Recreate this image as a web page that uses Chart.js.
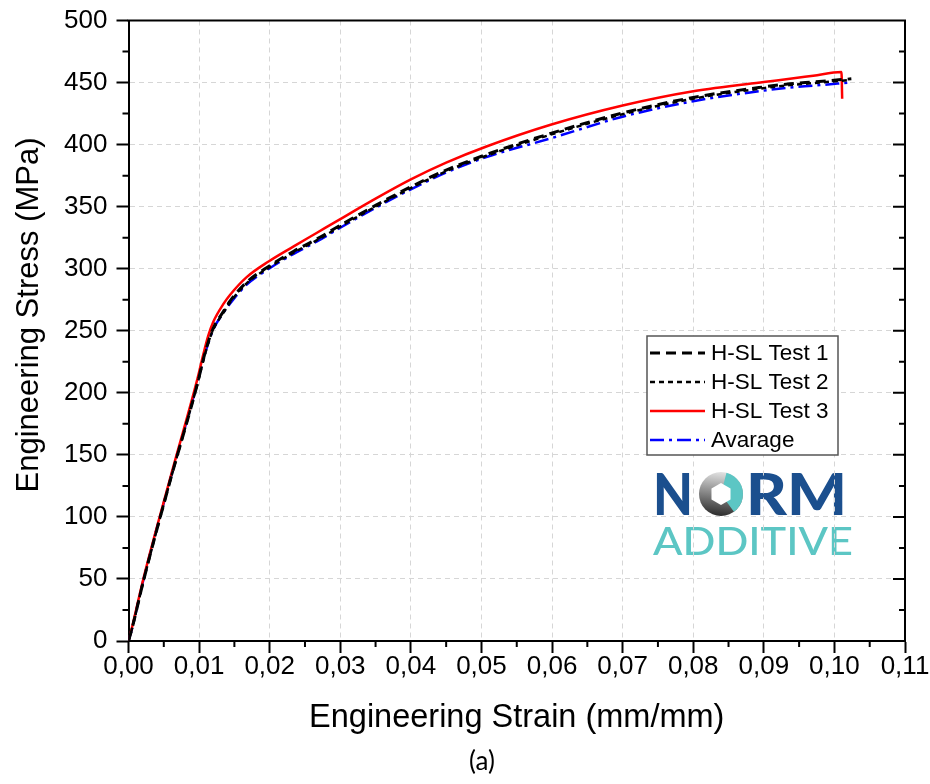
<!DOCTYPE html>
<html>
<head>
<meta charset="utf-8">
<script src="https://cdn.jsdelivr.net/npm/chart.js"></script>
<style>
  html, body { margin: 0; padding: 0; background: #fff; }
  #wrap { width: 930px; height: 784px; }
</style>
</head>
<body>
<div id="wrap"><canvas id="stressChart" width="930" height="784"></canvas></div>
<script>
// values
const strainTest1 = [0, 0.0005, 0.0021, 0.0059, 0.0098, 0.0106, 0.0113, 0.012, 0.0135, 0.0144, 0.0167, 0.0199, 0.0234, 0.0267, 0.03, 0.035, 0.04, 0.045, 0.0507, 0.0598, 0.07, 0.08, 0.09, 0.0937, 0.097, 0.1024];
const stressTest1 = [0, 10, 48, 129, 208, 227, 241, 252, 266, 274, 289, 302, 314, 324, 335, 351, 366, 379.5, 392, 409, 425.5, 438, 446.5, 449, 450.5, 453];

const strainTest2 = [0, 0.0005, 0.0021, 0.0059, 0.0098, 0.0106, 0.0113, 0.012, 0.0135, 0.0144, 0.0167, 0.0199, 0.0234, 0.0267, 0.03, 0.035, 0.04, 0.045, 0.0507, 0.0598, 0.07, 0.08, 0.09, 0.0937, 0.097, 0.1022];
const stressTest2 = [0, 10, 48, 129, 208, 226, 240, 251, 265, 273, 288, 301, 313, 323, 334, 350, 365, 378.5, 391, 408, 424.5, 437, 445.5, 448, 449.5, 452];

const strainTest3 = [0, 0.0005, 0.0021, 0.0059, 0.0098, 0.0106, 0.0113, 0.012, 0.0135, 0.0144, 0.0167, 0.0199, 0.0234, 0.0267, 0.03, 0.035, 0.04, 0.045, 0.0507, 0.0598, 0.07, 0.08, 0.09, 0.0937, 0.097, 0.101, 0.1011];
const stressTest3 = [0, 11, 50, 131, 212, 231, 246, 257, 272, 279, 293, 306, 318, 329, 340, 356.5, 372, 385.5, 398.5, 416, 431.5, 443, 450.5, 453, 455.5, 458.5, 437];

const strainAverage = [0, 0.0005, 0.0021, 0.0059, 0.0098, 0.0106, 0.0113, 0.012, 0.0135, 0.0144, 0.0167, 0.0199, 0.0234, 0.0267, 0.03, 0.035, 0.04, 0.045, 0.0507, 0.0598, 0.07, 0.08, 0.09, 0.0937, 0.097, 0.1022];
const stressAverage = [0, 10, 49, 130, 209, 227, 240, 251, 265, 272, 287, 300, 312, 322, 333, 349, 364, 377.5, 390, 405, 422.5, 435, 443.5, 446, 447.5, 450];

const seriesLabels = ["H-SL Test 1", "H-SL Test 2", "H-SL Test 3", "Avarage"];
const strainTickLabels = ["0,00", "0,01", "0,02", "0,03", "0,04", "0,05", "0,06", "0,07", "0,08", "0,09", "0,10", "0,11"];
const xAxisTitle = "Engineering Strain (mm/mm)";
const yAxisTitle = "Engineering Stress (MPa)";
const panelLabel = "(a)";

const FONT = "'Liberation Sans', Arial, sans-serif";

function toPoints(xs, ys) {
  return xs.map((x, i) => ({ x: x, y: ys[i] }));
}

function drawLogo(ctx) {
  ctx.save();
  const blue = "#1b4f8e";
  const teal = "#5cc6c4";
  ctx.fillStyle = blue;
  ctx.font = "900 58px Lato";
  ctx.textBaseline = "alphabetic";
  // N
  let w = ctx.measureText("N").width;
  ctx.save();
  ctx.translate(653, 515);
  ctx.scale(40 / w, 1);
  ctx.fillText("N", 0, 0);
  ctx.restore();
  // RM
  w = ctx.measureText("RM").width;
  ctx.save();
  ctx.translate(746, 515);
  ctx.scale(101 / w, 1);
  ctx.fillText("RM", 0, 0);
  ctx.restore();
  // O as a ring with hexagon hole
  const cx = 721, cy = 494, r = 22;
  const g = ctx.createLinearGradient(cx, cy - r, cx - 5, cy + r);
  g.addColorStop(0, "#e2e2e2");
  g.addColorStop(1, "#2b2b2b");
  ctx.beginPath();
  ctx.arc(cx, cy, r, 0, Math.PI * 2);
  ctx.fillStyle = g;
  ctx.fill();
  ctx.beginPath();
  ctx.moveTo(cx, cy);
  ctx.arc(cx, cy, r, -Math.PI * 0.42, Math.PI * 0.3);
  ctx.closePath();
  ctx.fillStyle = teal;
  ctx.fill();
  ctx.beginPath();
  for (let k = 0; k < 6; k++) {
    const a = Math.PI / 6 + k * Math.PI / 3;
    const px = cx + 11 * Math.cos(a), py = cy + 11 * Math.sin(a);
    if (k === 0) ctx.moveTo(px, py); else ctx.lineTo(px, py);
  }
  ctx.closePath();
  ctx.fillStyle = "#fff";
  ctx.fill();
  // ADDITIVE
  ctx.fillStyle = teal;
  ctx.font = "500 39px Lato";
  w = ctx.measureText("ADDITIVE").width;
  ctx.save();
  ctx.translate(653, 555);
  ctx.scale(200 / w, 1);
  ctx.fillText("ADDITIVE", 0, 0);
  ctx.restore();
  ctx.restore();
}

function drawLegend(chart) {
  const ctx = chart.ctx;
  const left = 647, top = 336, width = 191, height = 119;
  ctx.save();
  ctx.fillStyle = "#fff";
  ctx.fillRect(left, top, width, height);
  ctx.strokeStyle = "#555";
  ctx.lineWidth = 1.5;
  ctx.strokeRect(left, top, width, height);
  ctx.font = "22.5px " + FONT;
  ctx.textBaseline = "middle";
  chart.data.datasets.forEach((ds, i) => {
    const yy = top + 17 + i * 29;
    ctx.beginPath();
    ctx.setLineDash(ds.borderDash || []);
    ctx.strokeStyle = ds.borderColor;
    ctx.lineWidth = ds.borderWidth;
    ctx.moveTo(650, yy);
    ctx.lineTo(705, yy);
    ctx.stroke();
    ctx.setLineDash([]);
    ctx.fillStyle = "#000";
    ctx.fillText(ds.label, 711, yy + 1);
  });
  ctx.restore();
}

const framePlugin = {
  id: "frame",
  beforeDraw(chart) {
    drawLogo(chart.ctx);
  },
  afterDraw(chart) {
    const { ctx, chartArea: a, scales: { x, y } } = chart;
    ctx.save();
    ctx.strokeStyle = "#000";
    ctx.lineWidth = 2;
    ctx.beginPath();
    ctx.moveTo(a.left - 1, a.top);
    ctx.lineTo(a.right, a.top);
    ctx.lineTo(a.right, a.bottom + 1);
    for (let v = 25; v < 500; v += 50) {
      const py = y.getPixelForValue(v);
      ctx.moveTo(a.left - 6, py);
      ctx.lineTo(a.left, py);
      ctx.moveTo(a.right - 6, py);
      ctx.lineTo(a.right, py);
    }
    for (let v = 50; v < 500; v += 50) {
      const py = y.getPixelForValue(v);
      ctx.moveTo(a.right - 12, py);
      ctx.lineTo(a.right, py);
    }
    for (let k = 0; k < 11; k++) {
      const px = x.getPixelForValue(0.005 + k * 0.01);
      ctx.moveTo(px, a.bottom);
      ctx.lineTo(px, a.bottom + 6);
    }
    ctx.stroke();

    // y axis title and panel label
    ctx.fillStyle = "#000";
    ctx.textAlign = "center";
    ctx.textBaseline = "middle";
    ctx.save();
    ctx.translate(29, 315);
    ctx.rotate(-Math.PI / 2);
    ctx.font = "31px " + FONT;
    ctx.fillText(yAxisTitle, 0, 0);
    ctx.restore();
    ctx.font = "26px Lato";
    ctx.fillText(panelLabel, 482, 762);
    ctx.restore();
    drawLegend(chart);
  }
};

const ctx = document.getElementById("stressChart").getContext("2d");
new Chart(ctx, {
  type: "line",
  data: {
    datasets: [
      {
        label: seriesLabels[0],
        data: toPoints(strainTest1, stressTest1),
        borderColor: "#000000",
        borderWidth: 3,
        borderDash: [10, 6],
      },
      {
        label: seriesLabels[1],
        data: toPoints(strainTest2, stressTest2),
        borderColor: "#000000",
        borderWidth: 2.5,
        borderDash: [5, 4],
      },
      {
        label: seriesLabels[2],
        data: toPoints(strainTest3, stressTest3),
        borderColor: "#ff0000",
        borderWidth: 2.5,
        borderDash: [],
      },
      {
        label: seriesLabels[3],
        data: toPoints(strainAverage, stressAverage),
        borderColor: "#0000ff",
        borderWidth: 2.5,
        borderDash: [14, 5, 3, 5],
      },
    ],
  },
  options: {
    responsive: false,
    animation: false,
    devicePixelRatio: 1,
    layout: { padding: { left: 0, right: 25, top: 20.5, bottom: 0 } },
    elements: {
      point: { radius: 0 },
      line: { cubicInterpolationMode: "monotone", fill: false },
    },
    plugins: {
      legend: { display: false },
      tooltip: { enabled: false },
    },
    scales: {
      x: {
        type: "linear",
        min: 0,
        max: 0.11,
        afterFit(scale) {
          scale.height = 784 - 641;
          scale.paddingLeft = 0;
          scale.paddingRight = 0;
        },
        ticks: {
          stepSize: 0.01,
          color: "#000",
          padding: -2,
          font: { family: FONT, size: 26 },
          callback: (v) => strainTickLabels[Math.round(v * 100)],
        },
        grid: {
          color: "#d6d6d6",
          lineWidth: 1,
          drawTicks: true,
          tickLength: 12,
          tickColor: "#000",
          tickWidth: 2,
        },
        border: { display: true, color: "#000", width: 2, dash: [5, 4] },
        title: {
          display: true,
          text: xAxisTitle,
          color: "#000",
          font: { family: FONT, size: 32.5 },
          padding: { top: 0, bottom: 46 },
        },
      },
      y: {
        type: "linear",
        min: 0,
        max: 500,
        afterFit(scale) {
          scale.width = 128.5;
          scale.paddingTop = 0;
          scale.paddingBottom = 0;
        },
        ticks: {
          stepSize: 50,
          color: "#000",
          padding: 9,
          font: { family: FONT, size: 26 },
        },
        grid: {
          color: "#d6d6d6",
          lineWidth: 1,
          drawTicks: true,
          tickLength: 12,
          tickColor: "#000",
          tickWidth: 2,
        },
        border: { display: true, color: "#000", width: 2, dash: [5, 4] },
      },
    },
  },
  plugins: [framePlugin],
});
</script>
</body>
</html>
